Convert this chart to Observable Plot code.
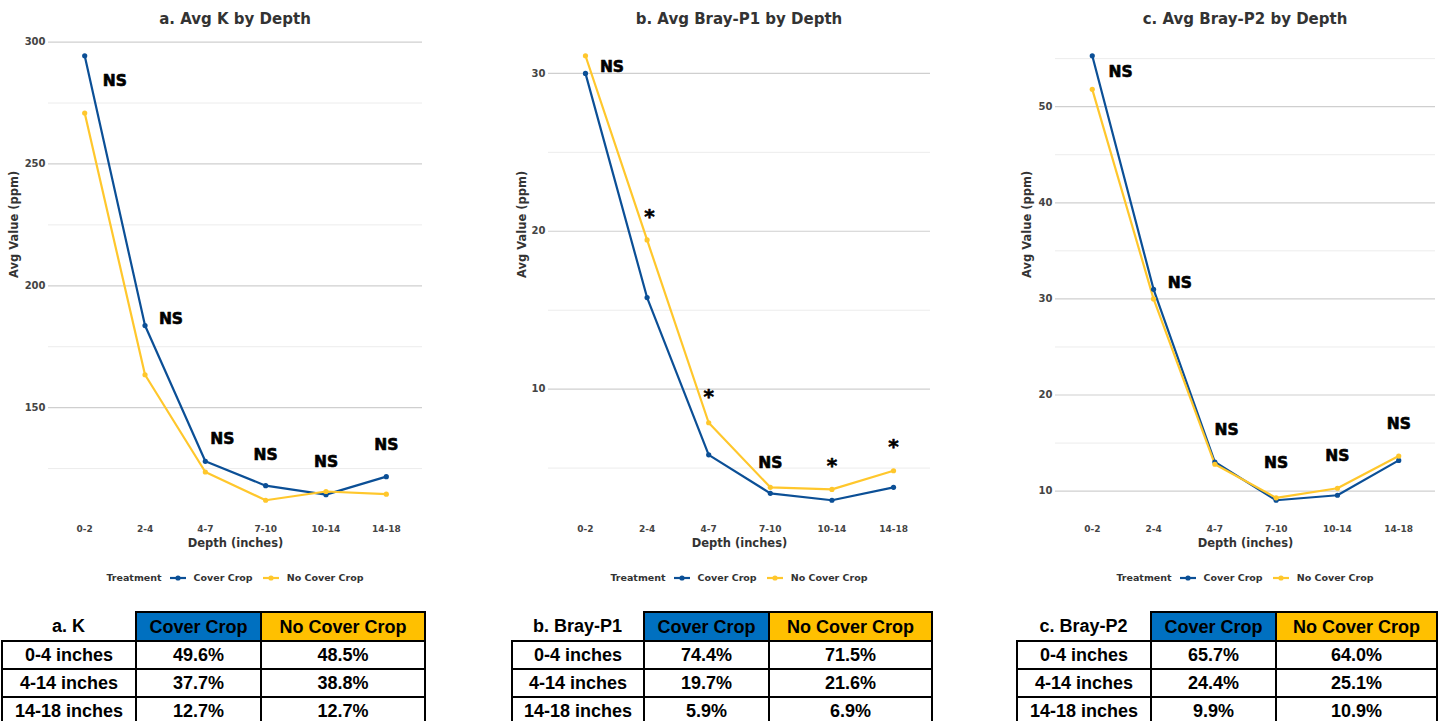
<!DOCTYPE html>
<html>
<head>
<meta charset="utf-8">
<script src="https://cdn.jsdelivr.net/npm/d3@7"></script>
<script src="https://cdn.jsdelivr.net/npm/@observablehq/plot@0.6"></script>
<style>
  html, body { margin: 0; padding: 0; background: #fff; width: 1440px; height: 721px; overflow: hidden; }
  #root { position: relative; width: 1440px; height: 721px; }
  .abs { position: absolute; }
  .title { font-family: "DejaVu Sans", sans-serif; font-weight: 700; font-size: 15px; color: #333; text-align: center; white-space: nowrap; }
  .legend { font-family: "DejaVu Sans", sans-serif; font-size: 9.5px; font-weight: 700; color: #333; display: flex; align-items: center; white-space: nowrap; }
  .legend b { font-weight: 700; margin-right: 8px; }
  .legend svg { margin-right: 8px; }
  .legend span.item { margin-right: 10px; }
  table.tbl { position: absolute; border-collapse: collapse; table-layout: fixed; font-family: "Liberation Sans", Arial, sans-serif; font-weight: 700; font-size: 18px; color: #000; }
  table.tbl td, table.tbl th { border: 2px solid #000; text-align: center; padding: 0; font-weight: 700; line-height: 1; }
  table.tbl th.blank { border: none; }
</style>
</head>
<body>
<div id="root"></div>
<script>
// ---------- Data ----------
const depths = ["0-2", "2-4", "4-7", "7-10", "10-14", "14-18"];
const treatments = ["Cover Crop", "No Cover Crop"];
const treatmentColors = ["#0b4f96", "#ffc72c"];

// a. K (ppm)
const kCover   = [294.4, 183.7, 128.0, 118.0, 114.3, 121.7];
const kNoCover = [270.9, 163.5, 123.6, 112.0, 115.6, 114.5];
const kSigText = ["NS", "NS", "NS", "NS", "NS", "NS"];
const kSigX    = [1.5, 2.43, 3.28, 4, 5, 6];
const kSigY    = [284.1, 186.5, 137.3, 130.5, 127.6, 134.5];
const kMajor   = [150, 200, 250, 300];
const kMinor   = [125, 175, 225, 275];

// b. Bray-P1 (ppm)
const p1Cover   = [30.0, 15.8, 5.84, 3.4, 2.96, 3.78];
const p1NoCover = [31.12, 19.45, 7.87, 3.78, 3.65, 4.83];
const p1SigText = ["NS", "*", "*", "NS", "*", "*"];
const p1SigX    = [1.43, 2.04, 3.0, 4, 5, 6];
const p1SigY    = [30.4, 20.95, 9.5, 5.34, 5.17, 6.39];
const p1Major   = [10, 20, 30];
const p1Minor   = [5, 15, 25];

// c. Bray-P2 (ppm)
const p2Cover   = [55.3, 31.0, 13.03, 9.05, 9.57, 13.2];
const p2NoCover = [51.8, 30.0, 12.8, 9.3, 10.3, 13.65];
const p2SigText = ["NS", "NS", "NS", "NS", "NS", "NS"];
const p2SigX    = [1.46, 2.43, 3.19, 4, 5, 6];
const p2SigY    = [53.6, 31.6, 16.4, 12.9, 13.65, 17.0];
const p2Major   = [10, 20, 30, 40, 50];
const p2Minor   = [15, 25, 35, 45, 55];

// Tables: share of nutrient by depth (%)
const tableRows = ["0-4 inches", "4-14 inches", "14-18 inches"];
const kTableCover    = [49.6, 37.7, 12.7];
const kTableNoCover  = [48.5, 38.8, 12.7];
const p1TableCover   = [74.4, 19.7, 5.9];
const p1TableNoCover = [71.5, 21.6, 6.9];
const p2TableCover   = [65.7, 24.4, 9.9];
const p2TableNoCover = [64.0, 25.1, 10.9];
const tableHeaderColors = ["#0070c0", "#ffc000"];

// ---------- Rendering ----------
const root = document.getElementById("root");
const FONT = "'DejaVu Sans', sans-serif";

function panel(cfg) {
  const data = [];
  cfg.cover.forEach((v, i) => data.push({i: i + 1, v, s: treatments[0]}));
  cfg.noCover.forEach((v, i) => data.push({i: i + 1, v, s: treatments[1]}));
  const sig = cfg.sigText.map((t, k) => ({t, x: cfg.sigX[k], y: cfg.sigY[k]}));
  const ticks = depths.map((d, i) => i + 1);

  const vals = cfg.cover.concat(cfg.noCover);
  const lo = d3.min(vals), hi = d3.max(vals), pad = (hi - lo) * 0.05;

  const mt = 33, mb = 38, H = 560;
  const chart = Plot.plot({
    width: cfg.width, height: H,
    marginLeft: cfg.ml, marginRight: cfg.mr, marginTop: mt, marginBottom: mb,
    style: {fontFamily: FONT, background: "transparent", overflow: "visible"},
    x: {type: "linear", domain: [0.4, 6.6]},
    y: {domain: [lo - pad, hi + pad]},
    color: {domain: treatments, range: treatmentColors},
    marks: [
      Plot.gridY(cfg.minor, {stroke: "#ececec", strokeOpacity: 1, strokeWidth: 1}),
      Plot.gridY(cfg.major, {stroke: "#cfcfcf", strokeOpacity: 1, strokeWidth: 1.2}),
      Plot.axisY(cfg.major, {tickSize: 0, tickPadding: 3, label: null, fontSize: 10, fontWeight: 700, color: "#444"}),
      Plot.axisX(ticks, {tickSize: 0, tickPadding: 3, tickFormat: i => depths[i - 1], label: null, fontSize: 9, fontWeight: 700, color: "#444"}),
      Plot.line(data, {x: "i", y: "v", z: "s", stroke: "s", strokeWidth: 2.2}),
      Plot.dot(data, {x: "i", y: "v", fill: "s", r: 2.6}),
      Plot.text(sig, {x: "x", y: "y", text: "t", fontSize: d => d.t === "*" ? 20 : 15.5, fontWeight: 700, fill: "#000", stroke: "#000", strokeWidth: 0.6}),
      Plot.text(["Avg Value (ppm)"], {text: d => d, frameAnchor: "left", lineAnchor: "middle", rotate: -90, dx: -cfg.ylabOff, fontSize: 11.5, fontWeight: 700, fill: "#333"}),
      Plot.text(["Depth (inches)"], {text: d => d, frameAnchor: "bottom", lineAnchor: "middle", dy: 21, fontSize: 11.5, fontWeight: 700, fill: "#333"})
    ]
  });
  const wrap = document.createElement("div");
  wrap.className = "abs";
  wrap.style.left = cfg.left + "px";
  wrap.style.top = "0px";
  wrap.appendChild(chart);
  root.appendChild(wrap);

  const plotL = cfg.left + cfg.ml, plotR = cfg.left + cfg.width - cfg.mr, cx = (plotL + plotR) / 2;

  const t = document.createElement("div");
  t.className = "abs title";
  t.textContent = cfg.title;
  t.style.left = (cx - 150) + "px";
  t.style.width = "300px";
  t.style.top = "10px";
  root.appendChild(t);

  const lg = document.createElement("div");
  lg.className = "abs legend";
  const sw = c => `<svg width="16" height="8"><line x1="0" x2="16" y1="4" y2="4" stroke="${c}" stroke-width="2.2"/><circle cx="8" cy="4" r="2.6" fill="${c}"/></svg>`;
  lg.innerHTML = `<b>Treatment</b>${sw(treatmentColors[0])}<span class="item">${treatments[0]}</span>${sw(treatmentColors[1])}<span>${treatments[1]}</span>`;
  root.appendChild(lg);
  const w = lg.getBoundingClientRect().width;
  lg.style.left = (cx - w / 2) + "px";
  lg.style.top = "572px";
}

function table(cfg) {
  const tb = document.createElement("table");
  tb.className = "tbl";
  tb.style.left = cfg.left + "px";
  tb.style.top = "611px";
  const cols = cfg.widths.map(w => `<col style="width:${w}px">`).join("");
  let html = `<colgroup>${cols}</colgroup>`;
  html += `<tr style="height:29px"><th class="blank">${cfg.title}</th>` +
          `<th style="background:${tableHeaderColors[0]}">${treatments[0]}</th>` +
          `<th style="background:${tableHeaderColors[1]}">${treatments[1]}</th></tr>`;
  tableRows.forEach((r, i) => {
    html += `<tr style="height:28px"><td>${r}</td><td>${cfg.cover[i].toFixed(1)}%</td><td>${cfg.noCover[i].toFixed(1)}%</td></tr>`;
  });
  tb.innerHTML = html;
  root.appendChild(tb);
}

panel({left: 0, width: 430, ml: 48, mr: 8, ylabOff: 34, title: "a. Avg K by Depth",
  cover: kCover, noCover: kNoCover, sigText: kSigText, sigX: kSigX, sigY: kSigY, major: kMajor, minor: kMinor});
panel({left: 500, width: 438, ml: 48, mr: 8, ylabOff: 26, title: "b. Avg Bray-P1 by Depth",
  cover: p1Cover, noCover: p1NoCover, sigText: p1SigText, sigX: p1SigX, sigY: p1SigY, major: p1Major, minor: p1Minor});
panel({left: 1007, width: 433, ml: 48, mr: 5, ylabOff: 28, title: "c. Avg Bray-P2 by Depth",
  cover: p2Cover, noCover: p2NoCover, sigText: p2SigText, sigX: p2SigX, sigY: p2SigY, major: p2Major, minor: p2Minor});

table({left: 1, widths: [134, 125, 164], title: "a. K", cover: kTableCover, noCover: kTableNoCover});
table({left: 511, widths: [132, 125, 163], title: "b. Bray-P1", cover: p1TableCover, noCover: p1TableNoCover});
table({left: 1016, widths: [134, 125, 161], title: "c. Bray-P2", cover: p2TableCover, noCover: p2TableNoCover});
</script>
</body>
</html>
